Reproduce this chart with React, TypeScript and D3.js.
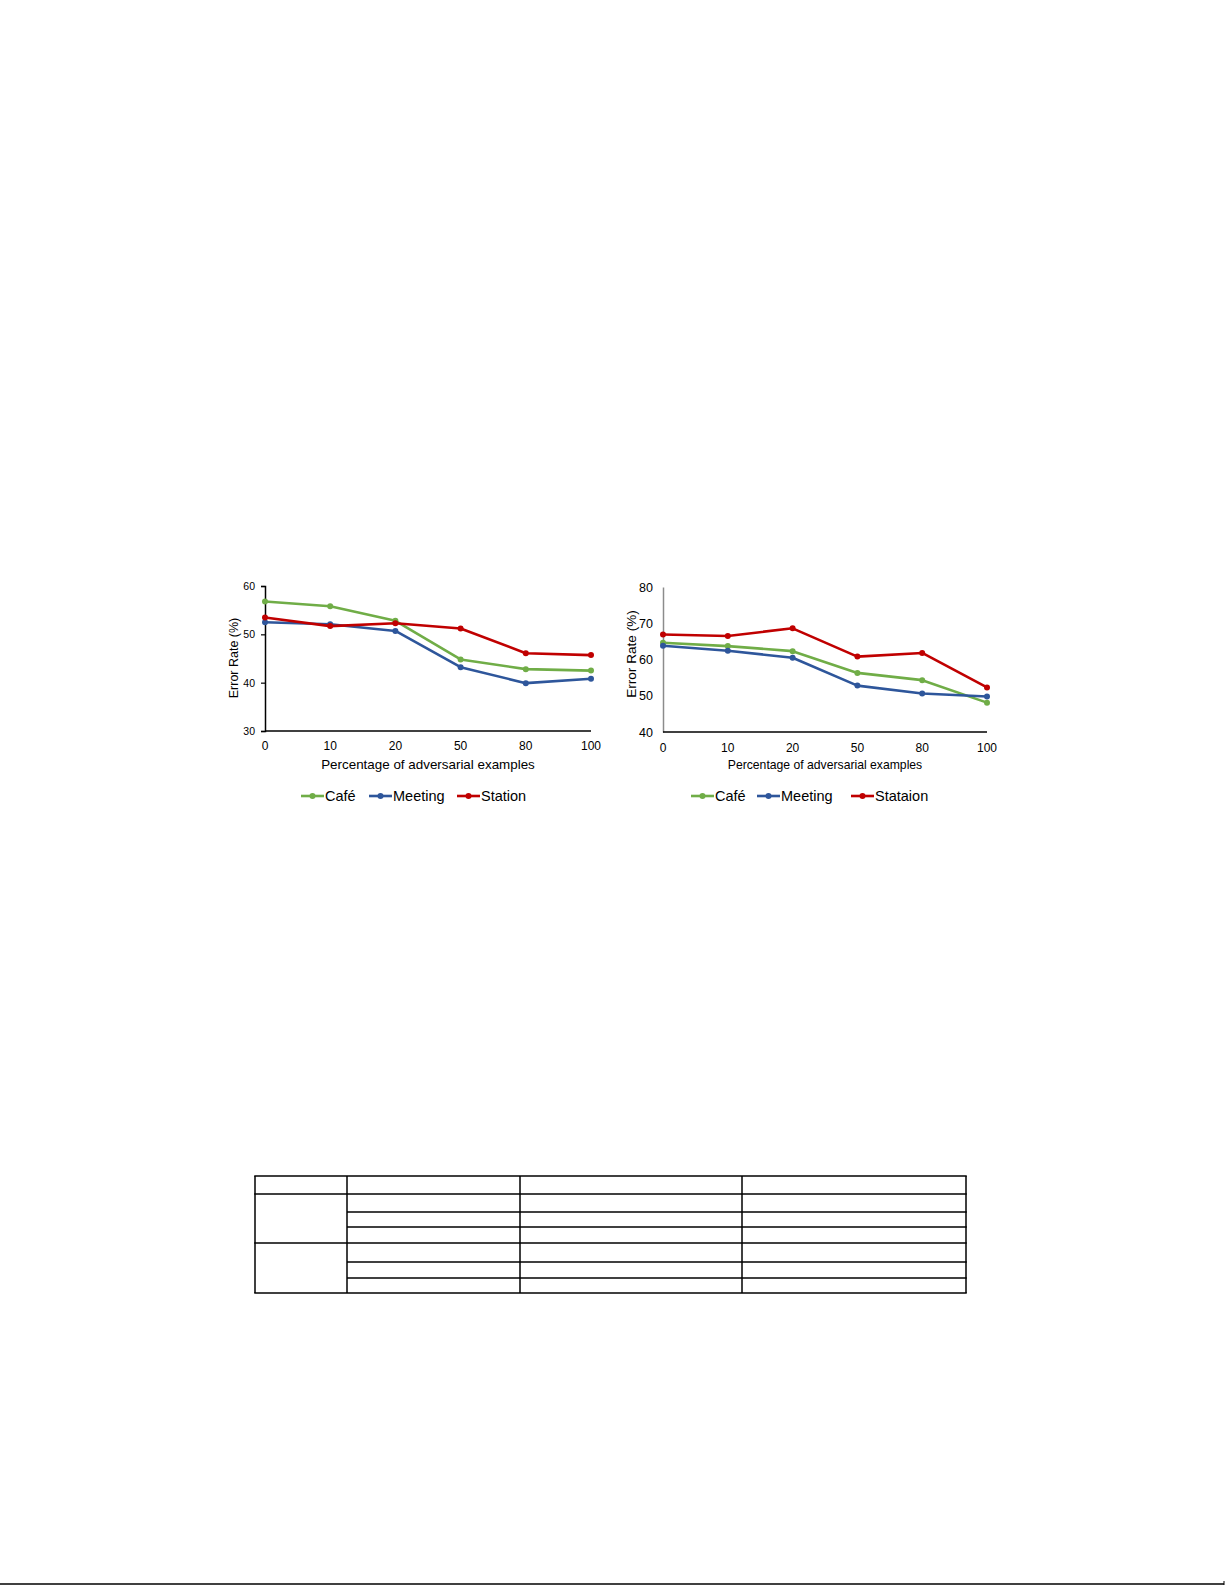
import { useEffect, useRef } from 'react'
import * as d3 from 'd3'

const W = 1225, H = 1585
const FONT = 'Liberation Sans, Arial, sans-serif'

// ── data ──────────────────────────────────────────────────────────────────
const CATEGORIES = ['0', '10', '20', '50', '80', '100']

const LEFT_CAFE    = [56.8, 55.8, 52.8, 44.8, 42.8, 42.5]
const LEFT_MEETING = [52.5, 52.1, 50.7, 43.2, 39.9, 40.8]
const LEFT_STATION = [53.5, 51.7, 52.3, 51.2, 46.1, 45.7]

const RIGHT_CAFE     = [64.6, 63.7, 62.3, 56.3, 54.3, 48.1]
const RIGHT_MEETING  = [63.8, 62.4, 60.5, 52.8, 50.6, 49.8]
const RIGHT_STATAION = [66.9, 66.5, 68.6, 60.8, 61.8, 52.3]

const LEFT_TICKS  = [30, 40, 50, 60]
const RIGHT_TICKS = [40, 50, 60, 70, 80]

const LEFT_NAMES  = ['Café', 'Meeting', 'Station']
const RIGHT_NAMES = ['Café', 'Meeting', 'Stataion']

const COLORS = ['#70AD47', '#2E569B', '#C00000']

const X_TITLE = 'Percentage of adversarial examples'
const Y_TITLE = 'Error Rate (%)'

// ── layout ────────────────────────────────────────────────────────────────
const PANELS = [
  {
    series: [LEFT_CAFE, LEFT_MEETING, LEFT_STATION], names: LEFT_NAMES, ticks: LEFT_TICKS,
    x0: 265, x1: 591, yTop: 586, yBot: 731, yAxisColor: '#000', tickMarks: true,
    yTickSize: 10.5, xTickY: 749.5, xTitleSize: 13.4, xTitleX: 428, yTitleSize: 12.5, yTitleX: 233, yTitleY: 658,
    legendX: [301, 369, 457],
  },
  {
    series: [RIGHT_CAFE, RIGHT_MEETING, RIGHT_STATAION], names: RIGHT_NAMES, ticks: RIGHT_TICKS,
    x0: 663, x1: 987, yTop: 587, yBot: 732, yAxisColor: '#8c8c8c', tickMarks: false,
    yTickSize: 12.5, xTickY: 752, xTitleSize: 12.2, xTitleX: 825, yTitleSize: 13.6, yTitleX: 631, yTitleY: 654,
    legendX: [691, 757, 851],
  },
]

const TABLE_COLS = [255, 347, 520, 742, 966]
const TABLE_ROWS = [1176, 1194, 1212, 1227, 1243, 1262, 1278, 1293]
const TABLE_GROUP_ROWS = [0, 1, 4, 7]   // lines spanning the first column too

export default function App() {
  const svgRef = useRef<SVGSVGElement>(null)

  useEffect(() => {
    const svg = d3.select(svgRef.current!)
    svg.selectAll('*').remove()

    PANELS.forEach(p => {
      const g = svg.append('g')
      const x = d3.scalePoint<string>().domain(CATEGORIES).range([p.x0, p.x1])
      const y = d3.scaleLinear().domain(d3.extent(p.ticks) as [number, number]).range([p.yBot, p.yTop])

      // y axis
      g.append('g')
        .attr('transform', `translate(${p.x0},0)`)
        .call(d3.axisLeft(y).tickValues(p.ticks).tickSize(p.tickMarks ? 4 : 0).tickPadding(p.tickMarks ? 6 : 10))
        .call(ax => {
          ax.select('.domain').attr('stroke', p.yAxisColor).attr('stroke-width', 1.5)
          ax.selectAll('.tick line').attr('stroke', '#000').attr('stroke-width', 1.2)
          ax.selectAll('.tick text')
            .attr('font-size', p.yTickSize).attr('font-family', FONT).attr('fill', '#000')
        })

      // x axis
      g.append('line')
        .attr('x1', p.x0).attr('x2', p.x1).attr('y1', p.yBot).attr('y2', p.yBot)
        .attr('stroke', '#000').attr('stroke-width', 1.5)

      g.selectAll('text.xt').data(CATEGORIES).join('text').attr('class', 'xt')
        .attr('x', d => x(d)!).attr('y', p.xTickY)
        .attr('text-anchor', 'middle').attr('font-size', 12).attr('font-family', FONT)
        .text(d => d)

      g.append('text')
        .attr('x', p.xTitleX).attr('y', 769)
        .attr('text-anchor', 'middle').attr('font-size', p.xTitleSize).attr('font-family', FONT)
        .text(X_TITLE)

      g.append('text')
        .attr('transform', `translate(${p.yTitleX + 4.5},${p.yTitleY}) rotate(-90)`)
        .attr('text-anchor', 'middle').attr('font-size', p.yTitleSize).attr('font-family', FONT)
        .text(Y_TITLE)

      // lines + markers
      const line = d3.line<number>().x((_, i) => x(CATEGORIES[i])!).y(d => y(d))
      p.series.forEach((vals, si) => {
        g.append('path').attr('d', line(vals)!)
          .attr('fill', 'none').attr('stroke', COLORS[si]).attr('stroke-width', 2.6)
          .attr('stroke-linejoin', 'round')
        g.selectAll(`circle.s${si}`).data(vals).join('circle').attr('class', `s${si}`)
          .attr('cx', (_, i) => x(CATEGORIES[i])!).attr('cy', d => y(d)).attr('r', 3)
          .attr('fill', COLORS[si])
      })

      // legend
      p.names.forEach((name, si) => {
        const lx = p.legendX[si]
        g.append('line').attr('x1', lx).attr('x2', lx + 23).attr('y1', 796).attr('y2', 796)
          .attr('stroke', COLORS[si]).attr('stroke-width', 2.6)
        g.append('circle').attr('cx', lx + 11.5).attr('cy', 796).attr('r', 3).attr('fill', COLORS[si])
        g.append('text').attr('x', lx + 24).attr('y', 801)
          .attr('font-size', 14.5).attr('font-family', FONT).text(name)
      })
    })

    // ── table grid ───────────────────────────────────────────────────────
    const t = svg.append('g').attr('stroke', '#000').attr('stroke-width', 1.5)
    const top = TABLE_ROWS[0], bot = TABLE_ROWS[TABLE_ROWS.length - 1]
    TABLE_ROWS.forEach((ry, i) => {
      const full = TABLE_GROUP_ROWS.includes(i)
      t.append('line')
        .attr('x1', full ? TABLE_COLS[0] - 0.75 : TABLE_COLS[1]).attr('x2', TABLE_COLS[TABLE_COLS.length - 1] + 0.75)
        .attr('y1', ry).attr('y2', ry)
    })
    TABLE_COLS.forEach(cx => {
      t.append('line').attr('x1', cx).attr('x2', cx).attr('y1', top).attr('y2', bot)
    })

    // bottom rule
    svg.append('line').attr('x1', 0).attr('x2', 1224).attr('y1', 1584).attr('y2', 1584)
      .attr('stroke', '#000').attr('stroke-width', 1.5)
    svg.append('line').attr('x1', 1224).attr('x2', 1224).attr('y1', 1581).attr('y2', 1585)
      .attr('stroke', '#000').attr('stroke-width', 1)
  }, [])

  return (
    <div style={{ position: 'absolute', left: 0, top: 0, width: W, height: H, background: '#fff', overflow: 'hidden' }}>
      <svg ref={svgRef} width={W} height={H} style={{ display: 'block' }} />
    </div>
  )
}
